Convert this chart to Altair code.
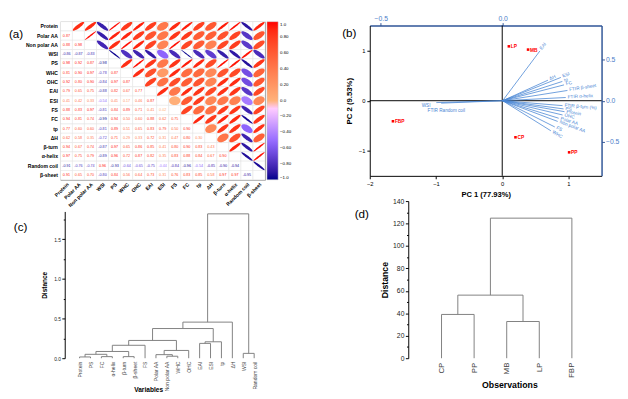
import math
import pandas as pd
import altair as alt

# ---------------- data ----------------
variables = ["Protein", "Polar AA", "Non polar AA", "WSI", "PS", "WHC", "OHC", "EAI", "ESI",
             "FS", "FC", "tp", "ΔH", "β-turn", "α-helix", "Random coil", "β-sheet"]
corr_lower = [
    [],
    [0.87],
    [0.88, 0.98],
    [-0.86, -0.87, -0.83],
    [0.98, 0.92, 0.87, -0.98],
    [0.81, 0.90, 0.97, -0.78, 0.87],
    [0.92, 0.80, 0.90, -0.84, 0.97, 0.87],
    [0.79, 0.65, 0.75, -0.88, 0.82, 0.67, 0.77],
    [0.41, 0.42, 0.33, -0.54, 0.41, 0.17, 0.46, 0.87],
    [0.88, 0.83, 0.97, -0.81, 0.84, 0.89, 0.71, 0.41, 0.02],
    [0.94, 0.81, 0.74, -0.99, 0.94, 0.50, 0.60, 0.88, 0.62, 0.75],
    [0.77, 0.60, 0.60, -0.81, 0.89, 0.51, 0.65, 0.83, 0.79, 0.50, 0.90],
    [0.62, 0.58, 0.35, -0.72, 0.71, 0.29, 0.33, 0.72, 0.31, 0.47, 0.80, 0.30],
    [0.94, 0.67, 0.74, -0.87, 0.97, 0.65, 0.86, 0.85, 0.41, 0.80, 0.90, 0.83, 0.43],
    [0.97, 0.75, 0.79, -0.89, 0.96, 0.72, 0.87, 0.82, 0.35, 0.83, 0.88, 0.84, 0.67, 0.90],
    [-0.91, -0.76, -0.74, 0.96, -0.93, -0.64, -0.65, -0.75, -0.44, -0.84, -0.96, -0.54, -0.85, -0.90, -0.94],
    [0.91, 0.65, 0.70, -0.80, 0.84, 0.56, 0.64, 0.73, 0.31, 0.76, 0.83, 0.85, 0.58, 0.97, 0.97, -0.95],
]
legend_ticks = [1.0, 0.8, 0.6, 0.4, 0.2, 0.0, -0.2, -0.4, -0.6, -0.8, -1.0]

obs_names = ["LP", "MB", "FBP", "CP", "PP"]
obs_pc1 = [0.10, 0.39, -1.65, 0.20, 1.01]
obs_pc2 = [1.085, 1.02, -0.41, -0.73, -1.03]

loading_names = ["EAI", "ΔH", "ESI", "tp", "FC", "FTIR β-sheet", "FTIR α-helix", "FTIR β-turn (%)",
                 "PS", "Protein", "OHC", "Polar AA", "Non polar AA", "FS", "WHC", "WSI", "FTIR Random coil"]
loading_pc1 = [0.153, 0.186, 0.239, 0.245, 0.252, 0.266, 0.259, 0.246, 0.250, 0.254, 0.246, 0.230,
               0.226, 0.214, 0.198, -0.272, -0.252]
loading_pc2 = [0.607, 0.250, 0.284, 0.235, 0.193, 0.125, 0.039, -0.060, -0.100, -0.134, -0.174, -0.214,
               -0.253, -0.320, -0.367, -0.023, -0.030]

var_leaves = ["Protein", "PS", "FC", "α-helix", "β-turn", "β-sheet", "FS", "Polar AA", "Non polar AA",
              "WHC", "OHC", "EAI", "ESI", "tp", "ΔH", "WSI", "Random coil"]
var_merge_left = ["Protein", "FC", "m1", "β-turn", "m3", "m5", "Non polar AA", "Polar AA", "m8", "m6",
                  "EAI", "m11", "m10", "m13", "WSI", "m14"]
var_merge_right = ["PS", "α-helix", "m2", "β-sheet", "m4", "FS", "WHC", "m7", "OHC", "m9",
                   "ESI", "tp", "m12", "ΔH", "Random coil", "m15"]
var_merge_height = [0.016, 0.020, 0.049, 0.020, 0.085, 0.163, 0.025, 0.045, 0.098, 0.224,
                    0.187, 0.207, 0.374, 0.455, 0.061, 1.82]

obs_leaves = ["CP", "PP", "MB", "LP", "FBP"]
obs_merge_left = ["CP", "MB", "m1", "m3"]
obs_merge_right = ["PP", "LP", "m2", "FBP"]
obs_merge_height = [39.0, 32.7, 56.2, 124.8]

# ---------------- layout constants ----------------
A_W, A_H = 211, 163
B_W, B_H = 239, 163
B_TOP, B_BOT = 4, 159
C_W, C_H = 215, 162
C_TOP = 10.7
D_W, D_H = 239, 162
COL_GAP, ROW_GAP = 104, 22
FONT = "Liberation Sans"
BLUE = "#4a86d4"
AXBLUE = "#2f5597"
LBLUE = "#4a7cc8"
GREY = "#7f7f7f"

# ---------------- panel (a) ----------------
n = len(variables)
R = [[1.0] * n for _ in range(n)]
for i in range(n):
    for j in range(i):
        R[i][j] = R[j][i] = corr_lower[i][j]

cell_w, cell_h = A_W / n, A_H / n
aspect = cell_h / cell_w


def ellipse_path(r, k=48):
    d = math.acos(max(-0.995, min(0.995, r)))
    pts = []
    for s in range(k):
        t = 2 * math.pi * s / k
        x = math.cos(t + d / 2)
        y = math.cos(t - d / 2)
        pts.append(f"{x:.4f},{-y * aspect:.4f}")
    return "M" + " L".join(pts) + " Z"


cells = pd.DataFrame([{"row": variables[i], "col": variables[j]} for i in range(n) for j in range(n)])
ell = pd.DataFrame([{"row": variables[i], "col": variables[j], "r": R[i][j], "path": ellipse_path(R[i][j])}
                    for i in range(n) for j in range(i + 1, n)])
txt = pd.DataFrame([{"row": variables[i], "col": variables[j], "r": R[i][j], "lab": f"{R[i][j]:.2f}"}
                    for i in range(n) for j in range(i)])

band = alt.Scale(type="band", paddingInner=0, paddingOuter=0)
xA = alt.X("col:N", sort=variables, scale=band,
           axis=alt.Axis(title=None, labelAngle=315, labelAlign="right", labelBaseline="top",
                         labelFontSize=5.2, labelFontWeight="bold", labelColor="black", labelPadding=2,
                         ticks=False, domain=False, labelOverlap=False))
yA = alt.Y("row:N", sort=variables, scale=band,
           axis=alt.Axis(title="(a)", titleAngle=0, titleX=-53.5, titleY=7, titleAlign="left",
                         titleBaseline="top", titleFontSize=12, titleFontWeight="normal",
                         labelFontSize=5.2, labelFontWeight="bold", labelColor="black", labelPadding=3,
                         ticks=False, domain=False, labelOverlap=False, minExtent=0))
cscale = alt.Scale(domain=[-1, 0, 1], range=["#00008B", "#ffffff", "#ff0000"])
legA = alt.Legend(title=None, orient="right", offset=2, padding=0, direction="vertical",
                  gradientLength=A_H, gradientThickness=11.5, values=legend_ticks,
                  labelExpr="datum.value == 0 || abs(datum.value) == 1 ? format(datum.value, '.1f') : format(datum.value, '.2f')",
                  labelFontSize=4.5, labelOffset=2, labelOverlap=False,
                  gradientStrokeColor="#cccccc", gradientStrokeWidth=0.5)

grid = alt.Chart(cells).mark_rect(fill="white", stroke="#e2e2e2", strokeWidth=0.5).encode(x=xA, y=yA)
ellipses = alt.Chart(ell).mark_point(filled=True, opacity=1, size=(cell_w * 0.94) ** 2, strokeWidth=0).encode(
    x=xA, y=yA, shape=alt.Shape("path:N", scale=None), color=alt.Color("r:Q", scale=cscale, legend=legA))
nums = alt.Chart(txt).mark_text(fontSize=3.8).encode(
    x=xA, y=yA, text="lab:N", color=alt.Color("r:Q", scale=cscale, legend=legA))
A = alt.layer(grid, ellipses, nums).properties(
    width=A_W, height=A_H, view=alt.ViewBackground(stroke="#999999", strokeWidth=1))

# ---------------- panel (b) ----------------
pcx = alt.Scale(domain=[-2, 1.5], nice=False, zero=False)
pcy = alt.Scale(domain=[-1.5, 1.5], nice=False, zero=False, range=[B_BOT, B_TOP])
ldx = alt.Scale(domain=[-0.545, 0.406], nice=False, zero=False)
ldy = alt.Scale(domain=[-0.917, 0.917], nice=False, zero=False, range=[B_BOT, B_TOP])

ax_pcx = alt.Axis(orient="bottom", offset=-(B_H - B_BOT), values=[-2, -1, 0, 1], format="d",
                  tickSize=3, labelFontSize=6, labelPadding=2, labelFlush=False, domainColor="black",
                  tickColor="black", labelColor="black", title="PC 1 (77.93%)", titleFontSize=7.8,
                  titleFontWeight="bold", titlePadding=4)
ax_pcy = alt.Axis(orient="left", values=[-1, 0, 1], format="d", tickSize=3, labelFontSize=6,
                  labelPadding=2, labelFlush=False, domainColor="black", tickColor="black",
                  labelColor="black", title="PC 2 (9.53%)", titleFontSize=8, titleFontWeight="bold",
                  titlePadding=5, minExtent=0)
ax_ldx = alt.Axis(orient="top", offset=-B_TOP, values=[-0.5, 0.0], format=".1f", tickSize=3,
                  labelFontSize=7, labelPadding=1, labelFlush=False, labelColor=LBLUE,
                  domainColor=AXBLUE, domainWidth=1.5, tickColor=AXBLUE,
                  title="(b)", titleX=-29, titleY=2, titleAngle=0, titleAlign="left",
                  titleBaseline="top", titleFontSize=12, titleFontWeight="normal", titleColor="black")
ax_ldy = alt.Axis(orient="right", values=[-0.5, 0.0, 0.5], format=".1f", tickSize=3, labelFontSize=7,
                  labelPadding=1, labelFlush=False, labelColor=LBLUE, domainColor=AXBLUE,
                  domainWidth=1.5, tickColor=AXBLUE, title=None, minExtent=0)

obs_df = pd.DataFrame({"name": obs_names, "pc1": obs_pc1, "pc2": obs_pc2})
zero_df = pd.DataFrame({"x": [0.0, -2.0], "x2": [0.0, 1.5], "y": [-1.5, 0.0], "y2": [1.5, 0.0]})

px_x = B_W / (0.406 + 0.545)
px_y = (B_BOT - B_TOP) / (2 * 0.917)
vec_df = pd.DataFrame({"name": loading_names, "l1": loading_pc1, "l2": loading_pc2})
vec_df["zero"] = 0.0
vec_df["ang"] = [math.degrees(math.atan2(-b * px_y, a * px_x)) % 360 for a, b in zip(loading_pc1, loading_pc2)]

zero_rules = alt.Chart(zero_df).mark_rule(color="black", strokeWidth=1).encode(
    x=alt.X("x:Q", scale=pcx, axis=ax_pcx), x2="x2:Q",
    y=alt.Y("y:Q", scale=pcy, axis=ax_pcy), y2="y2:Q")
pts = alt.Chart(obs_df).mark_point(filled=True, shape="square", size=7, color="red", opacity=1).encode(
    x=alt.X("pc1:Q", scale=pcx, axis=ax_pcx), y=alt.Y("pc2:Q", scale=pcy, axis=ax_pcy))
pt_labels = alt.Chart(obs_df).mark_text(align="left", baseline="middle", dx=2, fontSize=5,
                                        fontWeight="bold", color="red").encode(
    x=alt.X("pc1:Q", scale=pcx, axis=ax_pcx), y=alt.Y("pc2:Q", scale=pcy, axis=ax_pcy), text="name:N")
pc_layer = alt.layer(zero_rules, pts, pt_labels)

vectors = alt.Chart(vec_df).mark_rule(color=BLUE, strokeWidth=0.8).encode(
    x=alt.X("zero:Q", scale=ldx, axis=ax_ldx), x2="l1:Q",
    y=alt.Y("zero:Q", scale=ldy, axis=ax_ldy), y2="l2:Q")
vlab_r = alt.Chart(vec_df).transform_filter("datum.l1 > 0").mark_text(
    align="left", baseline="middle", dx=2, fontSize=4.8, color=BLUE).encode(
    x=alt.X("l1:Q", scale=ldx, axis=ax_ldx), y=alt.Y("l2:Q", scale=ldy, axis=ax_ldy),
    text="name:N", angle=alt.Angle("ang:Q", scale=None))
vlab_wsi = alt.Chart(vec_df).transform_filter("datum.name == 'WSI'").mark_text(
    align="right", baseline="top", dx=-6, dy=0.5, fontSize=4.8, color=BLUE).encode(
    x=alt.X("l1:Q", scale=ldx, axis=ax_ldx), y=alt.Y("l2:Q", scale=ldy, axis=ax_ldy), text="name:N")
vlab_rc = alt.Chart(vec_df).transform_filter("datum.name == 'FTIR Random coil'").mark_text(
    align="left", baseline="top", dx=-14, dy=5, fontSize=4.8, color=BLUE).encode(
    x=alt.X("l1:Q", scale=ldx, axis=ax_ldx), y=alt.Y("l2:Q", scale=ldy, axis=ax_ldy), text="name:N")
ld_layer = alt.layer(vectors, vlab_r, vlab_wsi, vlab_rc)

B = alt.layer(pc_layer, ld_layer).resolve_scale(x="independent", y="independent").properties(
    width=B_W, height=B_H)


# ---------------- dendrogram helper ----------------
def dendro(leaves, left, right, heights):
    pos = {name: (float(i), 0.0) for i, name in enumerate(leaves)}
    vert, horiz = [], []
    for k, (a, b, h) in enumerate(zip(left, right, heights)):
        xa, ya = pos[a]
        xb, yb = pos[b]
        vert.append({"x": xa, "y": ya, "y2": h})
        vert.append({"x": xb, "y": yb, "y2": h})
        horiz.append({"x": xa, "x2": xb, "y": h})
        pos[f"m{k + 1}"] = ((xa + xb) / 2, h)
    return pd.DataFrame(vert), pd.DataFrame(horiz)


def names_expr(names):
    return "[" + ",".join("'" + s + "'" for s in names) + "][datum.value]"


# ---------------- panel (c) ----------------
cv, ch = dendro(var_leaves, var_merge_left, var_merge_right, var_merge_height)
cx = alt.Scale(domain=[-1.76, 17.35], nice=False, zero=False)
cy = alt.Scale(domain=[0, 1.85], range=[C_H, C_TOP], nice=False, zero=False)
ax_c_bottom = alt.Axis(orient="bottom", values=list(range(len(var_leaves))), labelExpr=names_expr(var_leaves),
                       labelAngle=270, labelAlign="right", labelBaseline="middle", labelPadding=3,
                       labelFontSize=5.2, labelColor="#444444", labelOverlap=False, labelFlush=False,
                       ticks=False, domain=False, title="Variables", titleX=90.5, titleY=32,
                       titleAlign="center", titleBaseline="middle", titleFontSize=6.8, titleFontWeight="bold")
ax_c_top = alt.Axis(orient="top", labels=False, ticks=False, domain=False, title="(c)", titleX=-48.5,
                    titleY=21, titleAngle=0, titleAlign="left", titleBaseline="top", titleFontSize=12,
                    titleFontWeight="normal")
ax_c_major = alt.Axis(orient="left", offset=-4.5, values=[0, 0.5, 1.0, 1.5], format=".1f", tickSize=3,
                      labelFontSize=5, labelPadding=1.5, labelFlush=False, domainColor="black",
                      tickColor="black", labelColor="#222222", title="Distance", titleX=-20.5,
                      titleY=(C_H + C_TOP) / 2, titleAngle=270, titleAlign="center", titleBaseline="middle",
                      titleFontSize=6.7, titleFontWeight="bold", minExtent=0)
ax_c_minor = alt.Axis(orient="left", offset=-4.5, values=[0.25, 0.75, 1.25, 1.75], labels=False, tickSize=1.5,
                      tickColor="black", domain=False, title=None, minExtent=0)
c_vert = alt.Chart(cv).mark_rule(color=GREY, strokeWidth=1).encode(
    x=alt.X("x:Q", scale=cx, axis=ax_c_bottom), y=alt.Y("y:Q", scale=cy, axis=ax_c_major), y2="y2:Q")
c_horiz = alt.Chart(ch).mark_rule(color=GREY, strokeWidth=1).encode(
    x=alt.X("x:Q", scale=cx, axis=ax_c_top), x2="x2:Q", y=alt.Y("y:Q", scale=cy, axis=ax_c_minor))
C = alt.layer(c_vert, c_horiz).resolve_axis(x="independent", y="independent").properties(
    width=C_W, height=C_H)

# ---------------- panel (d) ----------------
dv, dh = dendro(obs_leaves, obs_merge_left, obs_merge_right, obs_merge_height)
dx_s = alt.Scale(domain=[-2.202, 4.911], nice=False, zero=False)
dy_s = alt.Scale(domain=[0, 140], nice=False, zero=False)
D_OFF = -39.7
ax_d_bottom = alt.Axis(orient="bottom", values=list(range(len(obs_leaves))), labelExpr=names_expr(obs_leaves),
                       labelAngle=270, labelAlign="right", labelBaseline="middle", labelPadding=4,
                       labelFontSize=8.2, labelColor="#444444", labelOverlap=False, labelFlush=False,
                       ticks=False, domain=False, title="Observations", titleX=144, titleY=27,
                       titleAlign="center", titleBaseline="middle", titleFontSize=9, titleFontWeight="bold")
ax_d_top = alt.Axis(orient="top", labels=False, ticks=False, domain=False, title="(d)", titleX=-16,
                    titleY=7.5, titleAngle=0, titleAlign="left", titleBaseline="top", titleFontSize=12,
                    titleFontWeight="normal")
ax_d_major = alt.Axis(orient="left", offset=D_OFF, values=list(range(0, 141, 20)), format="d", tickSize=3,
                      labelFontSize=7, labelPadding=1.5, labelFlush=False, domainColor="black",
                      tickColor="black", labelColor="#222222", title="Distance", titleX=-24,
                      titleY=D_H / 2, titleAngle=270, titleAlign="center", titleBaseline="middle",
                      titleFontSize=9, titleFontWeight="bold", minExtent=0)
ax_d_minor = alt.Axis(orient="left", offset=D_OFF, values=list(range(10, 140, 20)), labels=False,
                      tickSize=1.8, tickColor="black", domain=False, title=None, minExtent=0)
d_vert = alt.Chart(dv).mark_rule(color=GREY, strokeWidth=1).encode(
    x=alt.X("x:Q", scale=dx_s, axis=ax_d_bottom), y=alt.Y("y:Q", scale=dy_s, axis=ax_d_major), y2="y2:Q")
d_horiz = alt.Chart(dh).mark_rule(color=GREY, strokeWidth=1).encode(
    x=alt.X("x:Q", scale=dx_s, axis=ax_d_top), x2="x2:Q", y=alt.Y("y:Q", scale=dy_s, axis=ax_d_minor))
D = alt.layer(d_vert, d_horiz).resolve_axis(x="independent", y="independent").properties(
    width=D_W, height=D_H)

# ---------------- assemble ----------------
chart = alt.concat(A, B, C, D, columns=2, spacing={"row": ROW_GAP, "column": COL_GAP}, bounds="flush")
chart = chart.resolve_scale(color="independent").properties(padding=0)
chart = chart.configure(font=FONT).configure_view(stroke="transparent").configure_axis(grid=False)

chart.save("out.html", embed_options={"renderer": "svg", "actions": False})
